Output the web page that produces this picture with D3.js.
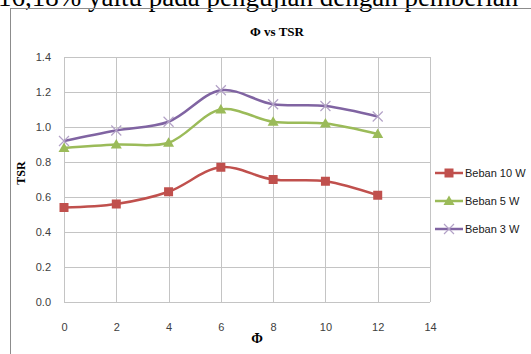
<!DOCTYPE html>
<html>
<head>
<meta charset="utf-8">
<script src="https://cdn.jsdelivr.net/npm/d3@7"></script>
<style>
  body { margin: 0; background: #fff; }
  svg { display: block; }
</style>
</head>
<body>
<script>
// data
var phi = [0, 2, 4, 6, 8, 10, 12];
var beban10 = [0.54, 0.56, 0.63, 0.77, 0.70, 0.69, 0.61];
var beban5 = [0.88, 0.90, 0.91, 1.10, 1.03, 1.02, 0.96];
var beban3 = [0.92, 0.98, 1.03, 1.21, 1.13, 1.12, 1.06];
var seriesNames = ["Beban 10 W", "Beban 5 W", "Beban 3 W"];
var xTicks = [0, 2, 4, 6, 8, 10, 12, 14];
var yTicks = [0, 0.2, 0.4, 0.6, 0.8, 1.0, 1.2, 1.4];

var W = 531, H = 354;
var plot = { left: 64, right: 430, top: 57, bottom: 302 };

var svg = d3.select("body").append("svg")
    .attr("width", W)
    .attr("height", H);

// cut-off line of body text above the chart
svg.append("text")
    .attr("x", -2)
    .attr("y", 6)
    .style("font-family", "'Liberation Serif', serif")
    .style("font-size", "27px")
    .text("16,18% yaitu pada pengujian dengan pemberian");

// chart frame
svg.append("rect")
    .attr("x", 10.5)
    .attr("y", 8.5)
    .attr("width", 600)
    .attr("height", 400)
    .attr("fill", "none")
    .attr("stroke", "#8c8c8c")
    .attr("stroke-width", 1);

var x = d3.scaleLinear().domain([0, 14]).range([plot.left, plot.right]);
var y = d3.scaleLinear().domain([0, 1.4]).range([plot.bottom, plot.top]);

// gridlines
var g = svg.append("g");
g.selectAll(".hgrid")
    .data(yTicks)
    .enter().append("line")
    .attr("x1", plot.left).attr("x2", plot.right)
    .attr("y1", function (d) { return Math.round(y(d)) + 0.5; })
    .attr("y2", function (d) { return Math.round(y(d)) + 0.5; })
    .attr("stroke", "#c4c4c4")
    .attr("stroke-width", 1);
g.selectAll(".vgrid")
    .data(xTicks)
    .enter().append("line")
    .attr("y1", plot.top).attr("y2", plot.bottom)
    .attr("x1", function (d) { return Math.round(x(d)) + 0.5; })
    .attr("x2", function (d) { return Math.round(x(d)) + 0.5; })
    .attr("stroke", "#c4c4c4")
    .attr("stroke-width", 1);

// axes labels via d3 axes (no domain/ticks lines)
var yAxis = svg.append("g")
    .attr("transform", "translate(" + plot.left + ",0)")
    .call(d3.axisLeft(y).tickValues(yTicks).tickFormat(d3.format(".1f")).tickSize(0).tickPadding(13));
var xAxis = svg.append("g")
    .attr("transform", "translate(0," + plot.bottom + ")")
    .call(d3.axisBottom(x).tickValues(xTicks).tickFormat(d3.format("d")).tickSize(0).tickPadding(21));
[yAxis, xAxis].forEach(function (a) {
    a.select(".domain").remove();
    a.selectAll("text")
        .style("font-family", "'Liberation Sans', Arial, sans-serif")
        .style("font-size", "11px")
        .attr("fill", "#404040");
});

// title and axis titles
svg.append("text")
    .attr("x", 277).attr("y", 36)
    .attr("text-anchor", "middle")
    .style("font-family", "'Liberation Serif', serif")
    .style("font-weight", "bold")
    .style("font-size", "13px")
    .text("Φ vs TSR");
svg.append("text")
    .attr("x", 257).attr("y", 343)
    .attr("text-anchor", "middle")
    .style("font-family", "'Liberation Serif', serif")
    .style("font-weight", "bold")
    .style("font-size", "14px")
    .text("Φ");
svg.append("text")
    .attr("transform", "translate(25,173) rotate(-90)")
    .attr("text-anchor", "middle")
    .style("font-family", "'Liberation Serif', serif")
    .style("font-weight", "bold")
    .style("font-size", "12px")
    .text("TSR");

var series = [
    { name: seriesNames[0], values: beban10, color: "#c0504d", marker: "square" },
    { name: seriesNames[1], values: beban5, color: "#9bbb59", marker: "triangle" },
    { name: seriesNames[2], values: beban3, color: "#8064a2", marker: "cross" }
];

var line = d3.line()
    .x(function (d) { return x(d[0]); })
    .y(function (d) { return y(d[1]); })
    .curve(d3.curveCatmullRom.alpha(0.5));

function drawMarker(sel, s, cx, cy) {
    if (s.marker === "square") {
        sel.append("rect")
            .attr("x", cx - 4.5).attr("y", cy - 4.5)
            .attr("width", 9).attr("height", 9)
            .attr("fill", s.color);
    } else if (s.marker === "triangle") {
        sel.append("path")
            .attr("d", "M" + cx + "," + (cy - 5.5) + "L" + (cx + 5.5) + "," + (cy + 4) + "L" + (cx - 5.5) + "," + (cy + 4) + "Z")
            .attr("fill", s.color);
    } else {
        sel.append("path")
            .attr("d", "M" + (cx - 5) + "," + (cy - 5) + "L" + (cx + 5) + "," + (cy + 5) + "M" + (cx + 5) + "," + (cy - 5) + "L" + (cx - 5) + "," + (cy + 5))
            .attr("stroke", "#b3a2c7")
            .attr("stroke-width", 1.2)
            .attr("fill", "none");
    }
}

series.forEach(function (s) {
    var pts = phi.map(function (p, i) { return [p, s.values[i]]; });
    var sg = svg.append("g");
    sg.append("path")
        .attr("d", line(pts))
        .attr("fill", "none")
        .attr("stroke", s.color)
        .attr("stroke-width", 2.5);
    pts.forEach(function (p) {
        drawMarker(sg, s, x(p[0]), y(p[1]));
    });
});

// legend
var legY = [173, 201, 229];
series.forEach(function (s, i) {
    var lg = svg.append("g");
    lg.append("line")
        .attr("x1", 435).attr("x2", 463)
        .attr("y1", legY[i]).attr("y2", legY[i])
        .attr("stroke", s.color)
        .attr("stroke-width", 2.5);
    drawMarker(lg, s, 449, legY[i]);
    lg.append("text")
        .attr("x", 465).attr("y", legY[i] + 4)
        .style("font-family", "'Liberation Sans', Arial, sans-serif")
        .style("font-size", "11px")
        .attr("fill", "#202020")
        .text(s.name);
});
</script>
</body>
</html>
